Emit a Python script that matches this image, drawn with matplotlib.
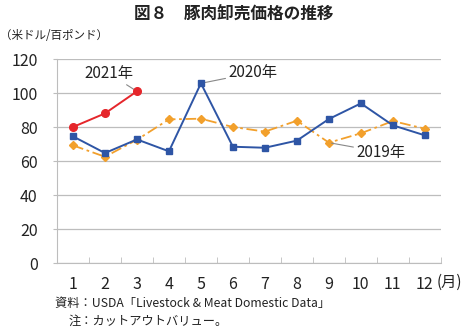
import matplotlib.pyplot as plt
import numpy as np

plt.rcParams['font.family'] = ['Noto Sans CJK JP', 'DejaVu Sans']

# data
months = np.arange(1, 13)
month_labels = [str(m) for m in months]
y2019 = [69.2, 62.5, 72.5, 84.5, 84.9, 80.0, 77.3, 83.7, 70.8, 76.3, 83.5, 79.0]
y2020 = [74.5, 64.7, 72.7, 65.7, 105.7, 68.4, 67.8, 72.0, 84.7, 93.9, 81.0, 75.1]
y2021 = [80.0, 88.0, 101.0]

blue = '#2E55A5'
orange = '#F2A02C'
red = '#E5262B'
grid = '#BDBDBD'
txt = '#222222'

fig = plt.figure(figsize=(4.67, 3.29), dpi=100)
ax = fig.add_axes([0.122, 0.2006, 0.822, 0.620])

ax.plot(months, y2019, color=orange, linestyle=(0, (6, 2, 1.5, 2)), linewidth=1.3,
        marker='D', markersize=3.6, zorder=3)
ax.plot(months, y2020, color=blue, linewidth=1.4, marker='s', markersize=4.6, zorder=4)
ax.plot(months[:3], y2021, color=red, linewidth=1.4, marker='o', markersize=5.5, zorder=5)

ax.set_xlim(0.5, 12.5)
ax.set_ylim(0, 120)
ax.set_yticks(np.arange(0, 121, 20))
ax.set_xticks(months)
ax.set_xticklabels(month_labels)
ax.set_xticks(np.arange(0.5, 12.6, 1), minor=True)
ax.tick_params(axis='x', which='major', length=0, pad=9, labelsize=11.5, colors=txt)
ax.tick_params(axis='x', which='minor', length=4, direction='in', color=grid)
ax.tick_params(axis='y', length=3, direction='out', color=grid, labelsize=11.5,
               labelcolor=txt, pad=11)
ax.grid(axis='y', color=grid, linewidth=0.9)
ax.set_axisbelow(True)
for s in ['top', 'right']:
    ax.spines[s].set_visible(False)
ax.spines['left'].set_color(grid)
ax.spines['bottom'].set_color(grid)

# series labels with leader lines
ax.annotate('2021年', xy=(3, y2021[2]), xytext=(2.12, 111.5), fontsize=11, color=txt,
            ha='center', va='center',
            arrowprops=dict(arrowstyle='-', color='#888888', lw=0.8, shrinkA=9, shrinkB=2))
ax.annotate('2020年', xy=(5, y2020[4]), xytext=(6.62, 111.8), fontsize=11, color=txt,
            ha='center', va='center',
            arrowprops=dict(arrowstyle='-', color='#888888', lw=0.8, shrinkA=19, shrinkB=2))
ax.annotate('2019年', xy=(9, y2019[8]), xytext=(10.62, 65.3), fontsize=11, color=txt,
            ha='center', va='center',
            arrowprops=dict(arrowstyle='-', color='#888888', lw=0.8, shrinkA=19, shrinkB=2))

fig.text(0.5, 0.957, '図８　豚肉卸売価格の推移', ha='center', va='center',
         fontsize=12, fontweight='bold', color=txt)
fig.text(0.0, 0.893, '（米ドル/百ポンド）', ha='left', va='center', fontsize=8.3, color=txt)
fig.text(0.934, 0.142, '(月)', ha='left', va='center', fontsize=11, color=txt)
fig.text(0.118, 0.079, '資料：USDA「Livestock & Meat Domestic Data」', ha='left',
         va='center', fontsize=8.8, color=txt)
fig.text(0.146, 0.022, '注：カットアウトバリュー。', ha='left', va='center',
         fontsize=8.8, color=txt)

plt.savefig('out.png', dpi=100)
